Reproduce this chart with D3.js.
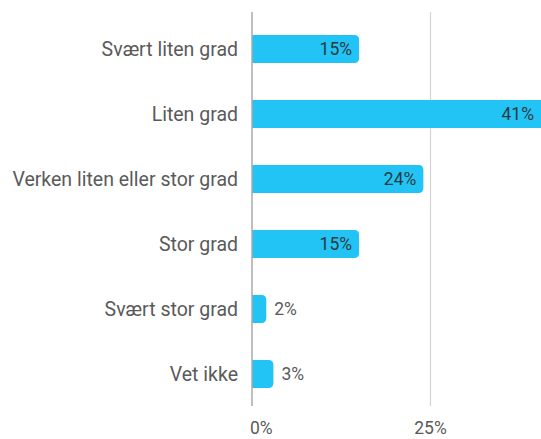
<!DOCTYPE html>
<html>
<head>
<meta charset="utf-8">
<script src="https://cdn.jsdelivr.net/npm/d3@7"></script>
<style>
  body { margin: 0; background: #fff; }
  svg { display: block; font-family: Roboto, sans-serif; }
</style>
</head>
<body>
<div id="chart"></div>
<script>
var categories = ["Svært liten grad", "Liten grad", "Verken liten eller stor grad", "Stor grad", "Svært stor grad", "Vet ikke"];
var values = [15, 41, 24, 15, 2, 3];
var ticks = [0, 25];

var width = 541, height = 439;
var x0 = 252;

var svg = d3.select("#chart").append("svg")
    .attr("width", width)
    .attr("height", height);

var x = d3.scaleLinear().domain([0, 25]).range([x0, 430.5]);
var y = d3.scaleBand().domain(categories).range([16.5, 406.5]).paddingInner(0.57).paddingOuter(0.285);

// gridlines
svg.selectAll(".grid")
    .data(ticks.slice(1))
    .enter().append("line")
    .attr("x1", function(d) { return x(d); })
    .attr("x2", function(d) { return x(d); })
    .attr("y1", 12).attr("y2", 406)
    .attr("stroke", "#d4d4d4").attr("stroke-width", 1.2);

function barPath(d) {
    var x1 = x0, x2 = x(d.v), yt = y(d.c), h = y.bandwidth();
    var r = Math.min(5, (x2 - x1) / 2);
    return "M" + x1 + "," + yt + "H" + (x2 - r) + "Q" + x2 + "," + yt + " " + x2 + "," + (yt + r) +
        "V" + (yt + h - r) + "Q" + x2 + "," + (yt + h) + " " + (x2 - r) + "," + (yt + h) + "H" + x1 + "Z";
}

var data = categories.map(function(c, i) { return { c: c, v: values[i] }; });

svg.selectAll(".bar")
    .data(data)
    .enter().append("path")
    .attr("d", barPath)
    .attr("fill", "#21c4f4");

// axis line
svg.append("line")
    .attr("x1", x0).attr("x2", x0)
    .attr("y1", 12).attr("y2", 406)
    .attr("stroke", "#aaaaaa").attr("stroke-width", 1.5);

// value labels
svg.selectAll(".val")
    .data(data)
    .enter().append("text")
    .attr("x", function(d) {
        var xe = Math.min(x(d.v), width);
        return d.v >= 10 ? xe - 7 : x(d.v) + 8;
    })
    .attr("y", function(d) { return y(d.c) + y.bandwidth() / 2; })
    .attr("dy", "0.35em")
    .attr("text-anchor", function(d) { return d.v >= 10 ? "end" : "start"; })
    .attr("fill", function(d) { return d.v >= 10 ? "#2b3a42" : "#5a5a5a"; })
    .style("font-size", "17.5px")
    .text(function(d) { return d.v + "%"; });

// category labels
svg.selectAll(".cat")
    .data(categories)
    .enter().append("text")
    .attr("x", 238)
    .attr("y", function(d) { return y(d) + y.bandwidth() / 2; })
    .attr("dy", "0.35em")
    .attr("text-anchor", "end")
    .attr("fill", "#5a5a5a")
    .style("font-size", "19.5px")
    .text(function(d) { return d; });

// tick labels
svg.selectAll(".tick")
    .data(ticks)
    .enter().append("text")
    .attr("x", function(d, i) { return i === 0 ? x(d) - 2 : x(d); })
    .attr("y", 434)
    .attr("text-anchor", function(d, i) { return i === 0 ? "start" : "middle"; })
    .attr("fill", "#5a5a5a")
    .style("font-size", "17.5px")
    .text(function(d) { return d + "%"; });
</script>
</body>
</html>
